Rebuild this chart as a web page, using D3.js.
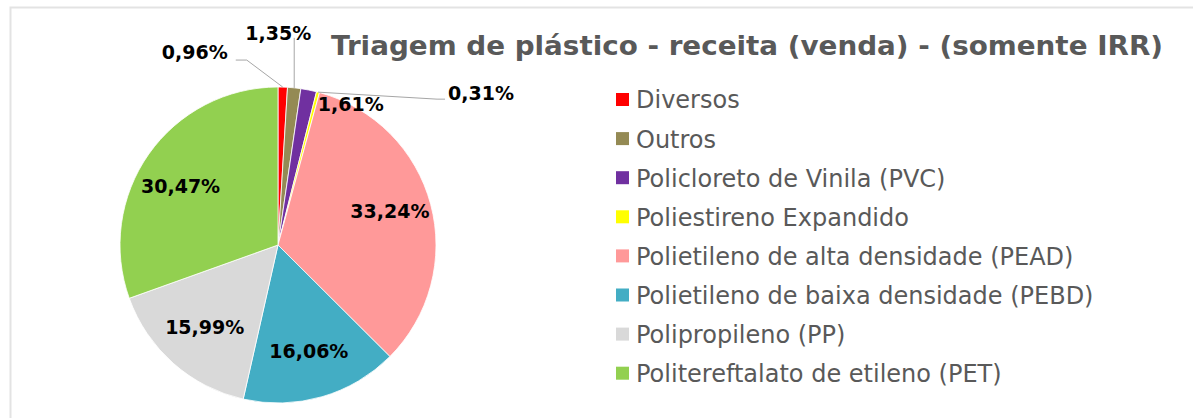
<!DOCTYPE html>
<html>
<head>
<meta charset="utf-8">
<script src="https://cdn.jsdelivr.net/npm/d3@7"></script>
<style>
  body { margin: 0; background: #fff; }
  svg { display: block; }
  .title { font-family: "Century Gothic", "DejaVu Sans", sans-serif; font-weight: bold; fill: #595959; }
  .legend text { font-family: "Century Gothic", "DejaVu Sans", sans-serif; fill: #595959; }
  .label { font-family: "Century Gothic", "DejaVu Sans", sans-serif; font-weight: bold; fill: #000; }
</style>
</head>
<body>
<script>
const categories = [
  'Diversos',
  'Outros',
  'Policloreto de Vinila (PVC)',
  'Poliestireno Expandido',
  'Polietileno de alta densidade (PEAD)',
  'Polietileno de baixa densidade (PEBD)',
  'Polipropileno (PP)',
  'Politereftalato de etileno (PET)'
]
const shares = [0.96, 1.35, 1.61, 0.31, 33.24, 16.06, 15.99, 30.47]
const colors = ['#ff0000', '#948a54', '#7030a0', '#ffff00', '#ff9999', '#43adc4', '#d9d9d9', '#92d050']
const titleText = 'Triagem de plástico - receita (venda) - (somente IRR)'

const width = 1193, height = 418
const center = { x: 278, y: 245 }
const radius = 158

const svg = d3.select('body').append('svg')
  .attr('width', width)
  .attr('height', height)

// frame
svg.append('path')
  .attr('d', `M10.5,${height}V7.5H${width}`)
  .attr('fill', 'none')
  .attr('stroke', '#e3e3e3')
  .attr('stroke-width', 2)

// title
svg.append('text')
  .classed('title', true)
  .attr('x', 331)
  .attr('y', 55)
  .attr('font-size', 27)
  .attr('textLength', 832)
  .attr('lengthAdjust', 'spacingAndGlyphs')
  .text(titleText)

// pie
const data = categories.map((name, i) => ({ name, value: shares[i], color: colors[i] }))
const pie = d3.pie().sort(null).value(d => d.value)
const arcs = pie(data)
const arc = d3.arc().innerRadius(0).outerRadius(radius)
const rim = d3.arc().innerRadius(radius).outerRadius(radius)

const chart = svg.append('g')
  .attr('transform', `translate(${center.x}, ${center.y})`)

chart.selectAll('path.slice').data(arcs)
  .enter().append('path')
    .classed('slice', true)
    .attr('d', arc)
    .attr('fill', d => d.data.color)
    .attr('stroke', '#fff')
    .attr('stroke-width', 0.8)

const fmt = v => d3.format('.2f')(v).replace('.', ',') + '%'

// labels for big slices: placed inside, around 2/3 of the radius
const inner = d3.arc().innerRadius(radius * 0.7).outerRadius(radius * 0.7)
chart.selectAll('text.big').data(arcs.filter(d => d.data.value > 5))
  .enter().append('text')
    .classed('label', true)
    .attr('font-size', 19)
    .attr('text-anchor', 'middle')
    .attr('dy', '0.35em')
    .attr('transform', d => {
      const [x, y] = inner.centroid(d)
      const nudge = { 'Politereftalato de etileno (PET)': [-7, 5], 'Polietileno de alta densidade (PEAD)': [5, -5] }[d.data.name] || [0, 0]
      return `translate(${x + nudge[0]}, ${y + nudge[1]})`
    })
    .text(d => fmt(d.data.value))

// small slices: labels outside, with leader lines (offsets relative to the rim point)
const small = {
  'Diversos':               { label: [-55, -35], anchor: 'end', line: [[-36, -27], [-47, -27]] },
  'Outros':                 { label: [-16, -54], anchor: 'middle', line: [[0, -50]] },
  'Policloreto de Vinila (PVC)': { label: [42, 14], anchor: 'middle', line: [] },
  'Poliestireno Expandido': { label: [130, 1], anchor: 'start', line: [[119, 7], [127, 7]] }
}
arcs.filter(d => small[d.data.name]).forEach(d => {
  const s = small[d.data.name]
  const [px, py] = rim.centroid(d)
  if (s.line.length) {
    chart.append('polyline')
      .attr('points', [[px, py], ...s.line.map(([dx, dy]) => [px + dx, py + dy])].join(' '))
      .attr('fill', 'none')
      .attr('stroke', '#a6a6a6')
      .attr('stroke-width', 1)
  }
  chart.append('text')
    .classed('label', true)
    .attr('font-size', 19)
    .attr('text-anchor', s.anchor)
    .attr('dy', '0.35em')
    .attr('x', px + s.label[0])
    .attr('y', py + s.label[1])
    .text(fmt(d.data.value))
})

// legend
const legend = svg.append('g')
  .classed('legend', true)
  .attr('transform', 'translate(616, 100)')
const row = legend.selectAll('g').data(data)
  .enter().append('g')
    .attr('transform', (d, i) => `translate(0, ${i * 39.1})`)
row.append('rect')
  .attr('x', 0).attr('y', -7)
  .attr('width', 13).attr('height', 13)
  .attr('fill', d => d.color)
row.append('text')
  .attr('x', 20)
  .attr('dy', '0.35em')
  .attr('font-size', 24)
  .text(d => d.name)
</script>
</body>
</html>
